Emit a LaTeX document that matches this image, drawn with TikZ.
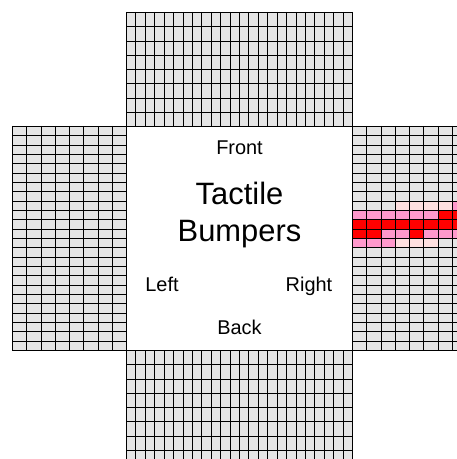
\documentclass[tikz,border=0pt]{standalone}
\usepackage{fontspec}
\setmainfont{Liberation Sans}
\definecolor{cellgray}{HTML}{E5E5E5}
\definecolor{lpink}{HTML}{FFE0E0}
\definecolor{mpink}{HTML}{FF99CC}
\definecolor{hred}{HTML}{FF0000}
\tikzset{
  gridline/.style={draw=black, line width=1.2bp},
  small/.style={font=\fontsize{20}{24}\selectfont, anchor=base, inner sep=0pt},
  big/.style={font=\fontsize{31}{36}\selectfont, anchor=base, inner sep=0pt},
}
\begin{document}
\begin{tikzpicture}[x=1bp,y=-1bp]
\useasboundingbox (0,0) rectangle (457,459);
\clip (0,0) rectangle (457,459);
% grey backgrounds of the four grids
\fill[cellgray] (126,12) rectangle (352,126);
\fill[cellgray] (126,350) rectangle (352,464);
\fill[cellgray] (12,126) rectangle (126,350);
\fill[cellgray] (352,126) rectangle (466,350);
% highlighted cells in right grid (row/col)
\foreach \r/\c/\col in {
  8/3/lpink, 8/4/lpink, 8/5/lpink, 8/6/lpink, 8/7/mpink,
  9/0/mpink, 9/1/mpink, 9/2/mpink, 9/3/mpink, 9/4/mpink, 9/5/mpink, 9/6/hred, 9/7/hred,
  10/0/hred, 10/1/hred, 10/2/hred, 10/3/hred, 10/4/hred, 10/5/hred, 10/6/hred, 10/7/hred,
  11/0/hred, 11/1/hred, 11/2/mpink, 11/3/mpink, 11/4/hred, 11/5/mpink, 11/6/mpink, 11/7/mpink,
  12/0/mpink, 12/1/mpink, 12/2/mpink, 12/3/lpink, 12/4/lpink, 12/5/lpink}
  \fill[\col] ({round(352+\c*14.25)},{round(126+\r*224/24)}) rectangle ({round(352+(\c+1)*14.25)},{round(126+(\r+1)*224/24)});
% grid lines (24 fine divisions along the square side, 8 across)
\foreach \i in {0,...,24} {
  \pgfmathsetmacro{\a}{round(126+\i*226/24)+0.5}
  \pgfmathsetmacro{\b}{round(126+\i*224/24)+0.5}
  \draw[gridline] (\a,12) -- (\a,126);
  \draw[gridline] (\a,350) -- (\a,464);
  \draw[gridline] (12,\b) -- (126,\b);
  \draw[gridline] (352,\b) -- (466,\b);
}
\foreach \j in {0,...,8} {
  \pgfmathsetmacro{\ga}{round(12+\j*14.25)+0.5}
  \pgfmathsetmacro{\gb}{round(350+\j*14.25)+0.5}
  \pgfmathsetmacro{\gc}{round(352+\j*14.25)+0.5}
  \draw[gridline] (126,\ga) -- (352,\ga);
  \draw[gridline] (126,\gb) -- (352,\gb);
  \draw[gridline] (\ga,126) -- (\ga,350);
  \draw[gridline] (\gc,126) -- (\gc,350);
}
% central square
\draw[fill=white, draw=black, line width=1.2bp] (126.5,126.5) rectangle (352.5,350.5);
% labels
\node[small] (front) at (239.5,155) {Front};
\node[big] (tactile) at (239.5,205) {Tactile};
\node[big] (bumpers) at (239.5,241) {Bumpers};
\node[small] (left) at (162,291) {Left};
\node[small] (right) at (309,291) {Right};
\node[small] (back) at (239.5,334) {Back};
\end{tikzpicture}
\end{document}
